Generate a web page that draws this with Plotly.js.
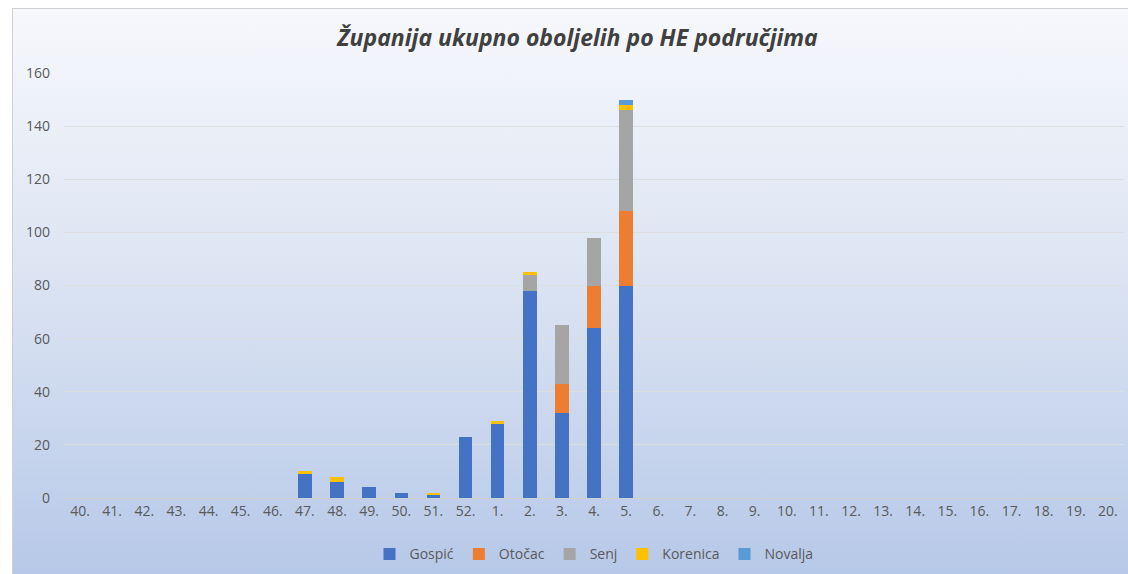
<!DOCTYPE html>
<html>
<head>
<meta charset="utf-8">
<script src="https://cdn.plot.ly/plotly-3.0.1.min.js"></script>
<style>
  html, body { margin: 0; padding: 0; background: #ffffff; }
  #wrap { position: relative; width: 1128px; height: 574px; overflow: hidden; }
  #bg { position: absolute; left: 12px; top: 8px; width: 1120px; height: 570px;
        border: 1px solid #d0d0d0;
        background: linear-gradient(to bottom, #f7f8fc 0%, #dde5f3 45%, #b6c8e8 100%); }
  #chart { position: absolute; left: 0; top: 0; width: 1128px; height: 574px; }
</style>
</head>
<body>
<div id="wrap">
  <div id="bg"></div>
  <div id="chart"></div>
</div>
<script>
const categories = ["40.","41.","42.","43.","44.","45.","46.","47.","48.","49.","50.","51.","52.",
  "1.","2.","3.","4.","5.","6.","7.","8.","9.","10.","11.","12.","13.","14.","15.","16.","17.","18.","19.","20."];
const gospic   = [0,0,0,0,0,0,0,9,6,4,2,1,23,28,78,32,64,80,0,0,0,0,0,0,0,0,0,0,0,0,0,0,0];
const otocac   = [0,0,0,0,0,0,0,0,0,0,0,0,0,0,0,11,16,28,0,0,0,0,0,0,0,0,0,0,0,0,0,0,0];
const senj     = [0,0,0,0,0,0,0,0,0,0,0,0,0,0,6,22,18,38,0,0,0,0,0,0,0,0,0,0,0,0,0,0,0];
const korenica = [0,0,0,0,0,0,0,1,2,0,0,1,0,1,1,0,0,2,0,0,0,0,0,0,0,0,0,0,0,0,0,0,0];
const novalja  = [0,0,0,0,0,0,0,0,0,0,0,0,0,0,0,0,0,2,0,0,0,0,0,0,0,0,0,0,0,0,0,0,0];
const seriesNames = ["Gospić","Otočac","Senj","Korenica","Novalja"];
const seriesColors = ["#4472c4","#ed7d31","#a5a5a5","#ffc000","#5b9bd5"];
const seriesData = [gospic, otocac, senj, korenica, novalja];

const traces = seriesData.map((d, i) => ({
  type: 'bar', x: categories, y: d, name: seriesNames[i],
  marker: {color: seriesColors[i], line: {width: 0}},
  hoverinfo: 'x+y+name'
}));

const layout = {
  width: 1128, height: 574,
  barmode: 'stack', bargap: 0.58,
  paper_bgcolor: 'rgba(0,0,0,0)', plot_bgcolor: 'rgba(0,0,0,0)',
  margin: {l: 64, r: 4, t: 73, b: 76},
  font: {family: 'Open Sans, Liberation Sans, sans-serif', color: '#595959', size: 14},
  title: {
    text: '<b><i>Županija ukupno oboljelih po HE područjima</i></b>',
    font: {family: 'Open Sans, sans-serif', size: 23, color: '#404040'},
    x: 0.512, xanchor: 'center', y: 1 - 38/574, yanchor: 'middle', yref: 'container'
  },
  xaxis: {
    type: 'category', showgrid: false, showline: true, linecolor: '#d0d0d0', linewidth: 1,
    ticks: '', tickfont: {size: 14, color: '#595959'}, zeroline: false, fixedrange: true
  },
  yaxis: {
    range: [0, 160], dtick: 20, showgrid: true, gridcolor: '#dedede', gridwidth: 1,
    zeroline: false, showline: false, ticks: '', ticklabelstandoff: 13,
    tickfont: {size: 14, color: '#595959'}, fixedrange: true
  },
  showlegend: true,
  legend: {
    orientation: 'h', x: 0.5, xanchor: 'center', y: -0.095, yanchor: 'top',
    font: {size: 14, color: '#595959'}, bgcolor: 'rgba(0,0,0,0)', traceorder: 'normal',
    itemwidth: 30
  }
};

Plotly.newPlot('chart', traces, layout, {displayModeBar: false, staticPlot: true});
</script>
</body>
</html>
